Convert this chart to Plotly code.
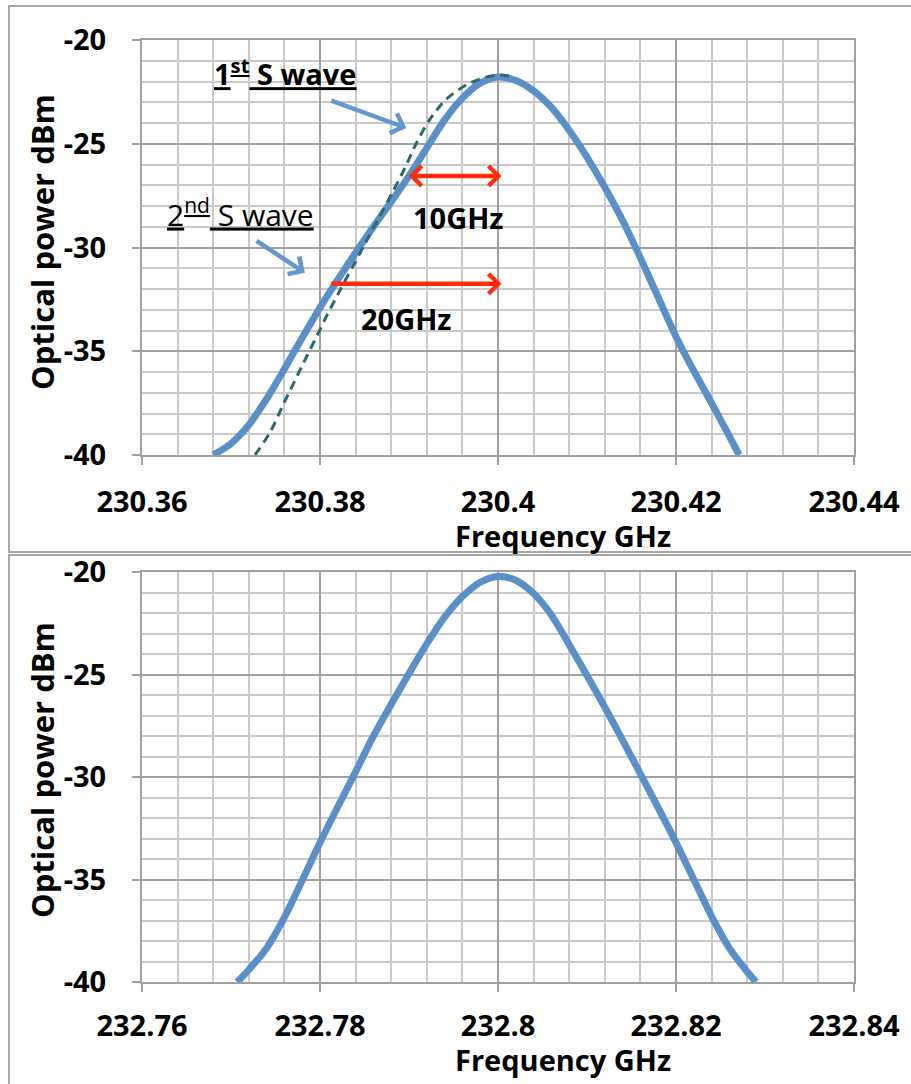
import plotly.graph_objects as go

# ---------------- data ----------------
top_freq_solid = [230.3680, 230.3700, 230.3720, 230.3740, 230.3760, 230.3780, 230.3800,
                  230.3820, 230.3840, 230.3860, 230.3880, 230.3900, 230.3920, 230.3940,
                  230.3960, 230.3980, 230.4000, 230.4020, 230.4040, 230.4060, 230.4080,
                  230.4100, 230.4120, 230.4140, 230.4160, 230.4180, 230.4200, 230.4220,
                  230.4240, 230.4260, 230.4271]
top_pow_solid = [-40.0, -39.45, -38.55, -37.30, -35.85, -34.35, -32.90,
                 -31.55, -30.25, -29.00, -27.80, -26.55, -25.20, -23.85,
                 -22.80, -22.08, -21.78, -21.95, -22.45, -23.25, -24.35,
                 -25.65, -27.10, -28.70, -30.50, -32.40, -34.30, -35.95,
                 -37.50, -39.10, -40.0]

top_freq_dash = [230.3727, 230.3744, 230.3760, 230.3781, 230.3796, 230.3808, 230.3822,
                 230.3837, 230.3852, 230.3867, 230.3882, 230.3895, 230.3908, 230.3923,
                 230.3942, 230.3965, 230.3987, 230.4002, 230.4015]
top_pow_dash = [-40.0, -38.90, -37.45, -35.60, -34.30, -33.25, -32.10,
                -30.90, -29.70, -28.50, -27.30, -26.20, -25.00, -23.85,
                -22.85, -22.15, -21.78, -21.69, -21.75]

bot_freq = [232.7707, 232.7720, 232.7740, 232.7760, 232.7780, 232.7800, 232.7820,
            232.7840, 232.7860, 232.7880, 232.7900, 232.7920, 232.7940, 232.7960,
            232.7980, 232.8000, 232.8020, 232.8040, 232.8060, 232.8080, 232.8100,
            232.8120, 232.8140, 232.8160, 232.8180, 232.8200, 232.8220, 232.8240,
            232.8260, 232.8280, 232.8290]
bot_pow = [-40.0, -39.40, -38.35, -36.85, -35.05, -33.20, -31.45,
           -29.75, -28.00, -26.45, -24.95, -23.50, -22.20, -21.20,
           -20.50, -20.22, -20.40, -21.05, -22.10, -23.55, -25.05,
           -26.60, -28.20, -29.85, -31.50, -33.20, -35.00, -36.80,
           -38.35, -39.50, -40.0]

top_xticks = [230.36, 230.38, 230.40, 230.42, 230.44]
top_xlabels = ["230.36", "230.38", "230.4", "230.42", "230.44"]
bot_xticks = [232.76, 232.78, 232.80, 232.82, 232.84]
bot_xlabels = ["232.76", "232.78", "232.8", "232.82", "232.84"]
yticks = [-40, -35, -30, -25, -20]
ylabels = ["-40", "-35", "-30", "-25", "-20"]

# annotation anchor points (data coords)
arrow_10 = dict(x0=230.3898, x1=230.4004, y=-26.55)
arrow_20 = dict(x0=230.3811, x1=230.4004, y=-31.75)
arrow_s1 = dict(ax=230.3811, ay=-22.89, x=230.3897, y=-24.24)
arrow_s2 = dict(ax=230.3727, ay=-29.63, x=230.3783, y=-31.22)

# ---------------- styling ----------------
W, H = 911, 1084
BLUE = "#5B8FC7"
TEAL = "#2D6A6E"
RED = "#FF2D0A"
MAJ = "#A0A0A0"
MIN = "#C9C9C9"
FONT = "Open Sans"


def px(x):
    return x / W


def py(y):
    return 1 - y / H


fig = go.Figure()
fig.add_trace(go.Scatter(x=top_freq_solid, y=top_pow_solid, mode="lines",
                         line=dict(color=BLUE, width=7, shape="spline", smoothing=0.8),
                         xaxis="x", yaxis="y", showlegend=False, hoverinfo="skip"))
fig.add_trace(go.Scatter(x=top_freq_dash, y=top_pow_dash, mode="lines",
                         line=dict(color=TEAL, width=3, dash="9px,6px", shape="spline", smoothing=0.8),
                         xaxis="x", yaxis="y", showlegend=False, hoverinfo="skip"))
fig.add_trace(go.Scatter(x=bot_freq, y=bot_pow, mode="lines",
                         line=dict(color=BLUE, width=7, shape="spline", smoothing=0.8),
                         xaxis="x2", yaxis="y2", showlegend=False, hoverinfo="skip"))

tickfont = dict(family=FONT, size=29, color="black", weight="bold")


def xaxis(tv, tt, anchor, standoff):
    return dict(domain=[px(142), px(854)], range=[tv[0], tv[-1]], anchor=anchor,
                tickmode="array", tickvals=tv, ticktext=tt, tickfont=tickfont,
                showgrid=True, gridcolor=MAJ, gridwidth=2,
                minor=dict(tick0=tv[0], dtick=(tv[1] - tv[0]) / 5, showgrid=True,
                           gridcolor=MIN, gridwidth=2),
                showline=True, linecolor=MAJ, linewidth=2, mirror=True,
                ticks="outside", ticklen=8, tickcolor=MAJ, tickwidth=2,
                ticklabelstandoff=standoff, zeroline=False, fixedrange=True, automargin=False)


def yaxis(dom, anchor):
    return dict(domain=dom, range=[-40, -20], anchor=anchor,
                tickmode="array", tickvals=yticks, ticktext=ylabels, tickfont=tickfont,
                showgrid=True, gridcolor=MAJ, gridwidth=2,
                minor=dict(tick0=-40, dtick=1, showgrid=True, gridcolor=MIN, gridwidth=2),
                showline=True, linecolor=MAJ, linewidth=2, mirror=True,
                ticks="outside", ticklen=8, tickcolor=MAJ, tickwidth=2,
                ticklabelstandoff=20, zeroline=False, fixedrange=True, automargin=False)


def label(x, y, text, size=29, **kw):
    d = dict(xref="paper", yref="paper", x=px(x), y=py(y), text=text, showarrow=False,
             xanchor="center", yanchor="middle",
             font=dict(family=FONT, size=size, color="black"))
    d.update(kw)
    return d


annotations = []
# axis titles
for yy in (535, 1059):
    annotations.append(label(563, yy, "<b>Frequency GHz</b>"))
for yy in (242, 770):
    annotations.append(label(42, yy, "<b>Optical power dBm</b>", size=31, textangle=-90))

# text labels
annotations.append(label(212, 72, "<u><b>1<sup>st</sup> S wave</b></u>", xanchor="left"))
annotations.append(label(165, 213, "<u>2<sup>nd</sup> S wave</u>", size=30, xanchor="left"))
annotations.append(label(458, 217, "<b>10GHz</b>"))
annotations.append(label(406, 318, "<b>20GHz</b>"))

# arrows
annotations.append(dict(xref="x", yref="y", axref="x", ayref="y",
                        x=arrow_10["x1"], y=arrow_10["y"], ax=arrow_10["x0"], ay=arrow_10["y"],
                        text="", showarrow=True, arrowhead=4, startarrowhead=4,
                        arrowside="end+start", arrowsize=0.85, startarrowsize=0.85,
                        arrowwidth=4.5, arrowcolor=RED, standoff=0, startstandoff=0))
annotations.append(dict(xref="x", yref="y", axref="x", ayref="y",
                        x=arrow_20["x1"], y=arrow_20["y"], ax=arrow_20["x0"], ay=arrow_20["y"],
                        text="", showarrow=True, arrowhead=4, arrowsize=0.85,
                        arrowwidth=4.5, arrowcolor=RED, standoff=0))
for a in (arrow_s1, arrow_s2):
    annotations.append(dict(xref="x", yref="y", axref="x", ayref="y",
                            x=a["x"], y=a["y"], ax=a["ax"], ay=a["ay"],
                            text="", showarrow=True, arrowhead=4, arrowsize=0.9,
                            arrowwidth=4.5, arrowcolor="#6397CE", standoff=0))

shapes = [
    dict(type="rect", xref="paper", yref="paper", x0=px(9), x1=px(920), y0=py(6), y1=py(552),
         line=dict(color="#A8A8A8", width=2), fillcolor="rgba(0,0,0,0)", layer="below"),
    dict(type="rect", xref="paper", yref="paper", x0=px(9), x1=px(920), y0=py(555), y1=py(1095),
         line=dict(color="#A8A8A8", width=2), fillcolor="rgba(0,0,0,0)", layer="below"),
]

fig.update_layout(
    width=W, height=H, margin=dict(l=0, r=0, t=0, b=0, autoexpand=False),
    paper_bgcolor="white", plot_bgcolor="white",
    xaxis=xaxis(top_xticks, top_xlabels, "y", 12),
    yaxis=yaxis([py(455), py(40)], "x"),
    xaxis2=xaxis(bot_xticks, bot_xlabels, "y2", 9),
    yaxis2=yaxis([py(982), py(572)], "x2"),
    annotations=annotations, shapes=shapes, showlegend=False,
)

fig.write_html("out.html")
